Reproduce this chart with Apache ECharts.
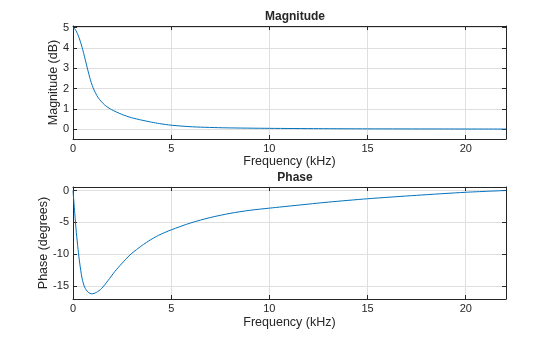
<!DOCTYPE html>
<html>
<head>
<meta charset="utf-8">
<script src="https://cdn.jsdelivr.net/npm/echarts@6/dist/echarts.min.js"></script>
<style>
html,body{margin:0;padding:0;background:#fff;}
#chart{width:560px;height:337px;}
</style>
</head>
<body>
<div id="chart"></div>
<script>
// Magnitude response (dB) vs frequency (kHz)
var magFreq = [0, 0.1, 0.26, 0.43, 0.56, 0.68, 0.85, 1.02, 1.28, 1.62, 1.96, 2.47, 2.98, 3.5, 4.0, 4.4, 5.0, 6.1, 7.8, 10, 12.5, 15, 18.5, 22.05];
var magValues = [5.0, 4.93, 4.63, 4.14, 3.67, 3.2, 2.55, 2.04, 1.55, 1.18, 0.96, 0.73, 0.56, 0.44, 0.34, 0.27, 0.19, 0.11, 0.06, 0.035, 0.02, 0.01, 0.005, 0.0];
// Phase response (degrees) vs frequency (kHz)
var phaseFreq = [0, 0.09, 0.17, 0.26, 0.34, 0.46, 0.59, 0.77, 0.97, 1.19, 1.45, 1.79, 2.13, 2.47, 2.9, 3.34, 3.85, 4.36, 5.0, 6, 7, 8, 9, 10, 11.4, 13, 15, 17.5, 20, 22.05];
var phaseValues = [0, -3.6, -6.6, -9.3, -11.4, -13.8, -15.2, -16.0, -16.28, -16.05, -15.45, -14.15, -12.75, -11.55, -10.15, -9.05, -7.95, -7.05, -6.2, -5.1, -4.25, -3.6, -3.12, -2.78, -2.33, -1.83, -1.3, -0.76, -0.28, 0.0];
// Tick labels
var freqTicks = [0, 5, 10, 15, 20];
var magTicks = [0, 1, 2, 3, 4, 5];
var phaseTicks = [-15, -10, -5, 0];

function pairs(xs, ys) { return xs.map(function (x, i) { return [x, ys[i]]; }); }

var axisColor = '#262626';
var gridColor = '#dfdfdf';
var fontFam = 'Liberation Sans, Arial, sans-serif';

function xMain(gi, ticks, gap) {
  return {
    type: 'value', gridIndex: gi, position: 'bottom', min: 0, max: 22.05,
    name: 'Frequency (kHz)', nameLocation: 'middle', nameGap: gap,
    nameTextStyle: { color: axisColor, fontSize: 12.5, fontFamily: fontFam },
    axisLine: { onZero: false, lineStyle: { color: axisColor, width: 1 } },
    axisTick: { inside: true, length: 4, lineStyle: { color: axisColor }, customValues: ticks },
    axisLabel: { color: axisColor, fontSize: 11, fontFamily: fontFam, margin: 4, customValues: ticks, showMinLabel: true, showMaxLabel: true },
    splitLine: { show: true, lineStyle: { color: gridColor, width: 1 } }
  };
}
function xTop(gi, ticks) {
  return {
    type: 'value', gridIndex: gi, position: 'top', min: 0, max: 22.05,
    axisLine: { onZero: false, lineStyle: { color: axisColor, width: 1 } },
    axisTick: { inside: true, length: 4, lineStyle: { color: axisColor }, customValues: ticks },
    axisLabel: { show: false },
    splitLine: { show: false }
  };
}
function yMain(gi, mn, mx, ticks, name, gap) {
  return {
    type: 'value', gridIndex: gi, position: 'left', min: mn, max: mx,
    name: name, nameLocation: 'middle', nameGap: gap, nameMoveOverlap: false,
    nameTextStyle: { color: axisColor, fontSize: 12.5, fontFamily: fontFam },
    axisLine: { show: true, onZero: false, lineStyle: { color: axisColor, width: 1 } },
    axisTick: { show: true, inside: true, length: 4, lineStyle: { color: axisColor }, customValues: ticks },
    axisLabel: { color: axisColor, fontSize: 11, fontFamily: fontFam, margin: 4, customValues: ticks },
    splitLine: { show: true, lineStyle: { color: gridColor, width: 1 } }
  };
}
function yRight(gi, mn, mx, ticks) {
  return {
    type: 'value', gridIndex: gi, position: 'right', min: mn, max: mx,
    axisLine: { show: true, onZero: false, lineStyle: { color: axisColor, width: 1 } },
    axisTick: { show: true, inside: true, length: 4, lineStyle: { color: axisColor }, customValues: ticks },
    axisLabel: { show: false },
    splitLine: { show: false }
  };
}

var chart = echarts.init(document.getElementById('chart'), null, { renderer: 'canvas' });
chart.setOption({
  animation: false,
  backgroundColor: '#ffffff',
  title: [
    { text: 'Magnitude', left: 290, top: 6, textAlign: 'center',
      textStyle: { fontSize: 12, fontWeight: 'bold', color: axisColor, fontFamily: fontFam } },
    { text: 'Phase', left: 290, top: 167, textAlign: 'center',
      textStyle: { fontSize: 12, fontWeight: 'bold', color: axisColor, fontFamily: fontFam } }
  ],
  grid: [
    { left: 73, top: 26, width: 433, height: 113 },
    { left: 73, top: 187, width: 433, height: 112 }
  ],
  xAxis: [xMain(0, freqTicks, 15), xTop(0, freqTicks), xMain(1, freqTicks, 17), xTop(1, freqTicks)],
  yAxis: [
    yMain(0, -0.49, 5.08, magTicks, 'Magnitude (dB)', 13),
    yRight(0, -0.49, 5.08, magTicks),
    yMain(1, -17.08, 0.55, phaseTicks, 'Phase (degrees)', 23),
    yRight(1, -17.08, 0.55, phaseTicks)
  ],
  series: [
    { type: 'line', xAxisIndex: 0, yAxisIndex: 0, data: pairs(magFreq, magValues),
      showSymbol: false, smooth: 0.25, lineStyle: { color: '#0072bd', width: 1 }, itemStyle: { color: '#0072bd' } },
    { type: 'line', xAxisIndex: 2, yAxisIndex: 2, data: pairs(phaseFreq, phaseValues),
      showSymbol: false, smooth: 0.25, lineStyle: { color: '#0072bd', width: 1 }, itemStyle: { color: '#0072bd' } }
  ]
});
</script>
</body>
</html>
